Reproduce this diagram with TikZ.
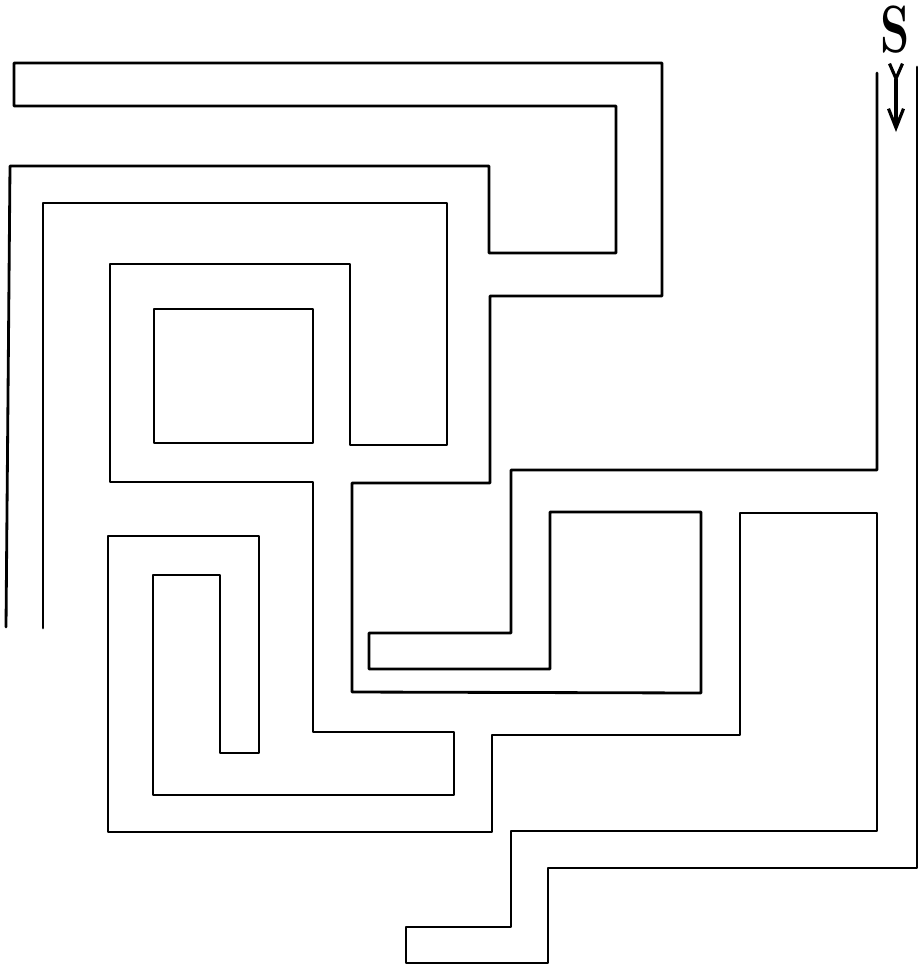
\documentclass[tikz,border=0pt]{standalone}
\usepackage{tikz}
\usetikzlibrary{arrows.meta,positioning}

\begin{document}
\begin{tikzpicture}[x=0.01cm, y=-0.01cm,
        wall/.style={line width=0.8pt, line join=round, line cap=round},
        lbl/.style={font=\fontsize{19}{21}\selectfont\bfseries, inner sep=0pt},
        line/.style={{Straight Barb[reversed, length=1.5mm, width=1.3mm]}-{Straight Barb[length=1.9mm, width=1.5mm]}, line width=0.9pt}]
        \useasboundingbox (0,0) rectangle (924,969);
        \draw[wall] (6,627) -- (10,166) -- (489,166) -- (489,253) -- (616,253) -- (616,106)
            -- (14,106) -- (14,63) -- (662,63) -- (662,296) -- (490,296) -- (490,483)
            -- (352,483) -- (352,692) -- (701,693) -- (701,512) -- (550,512) -- (550,669)
            -- (369,669) -- (369,633) -- (511,633) -- (511,470) -- (877,470) -- (877,73);
        \draw[wall] (43,628) -- (43,203) -- (447,203) -- (447,445) -- (350,445) -- (350,264)
            -- (110,264) -- (110,482) -- (313,482) -- (313,732) -- (454,732) -- (454,795)
            -- (153,795) -- (153,575) -- (220,575) -- (220,753) -- (259,753) -- (259,536)
            -- (108,536) -- (108,832) -- (492,832) -- (492,735) -- (740,735) -- (740,513)
            -- (877,513) -- (877,831) -- (511,831) -- (511,927) -- (406,927) -- (406,963)
            -- (548,963) -- (548,868) -- (917,868) -- (917,67);
        \draw[wall] (154,309) rectangle (313,443);
        \node[lbl] (start) at (895,30) {\scalebox{0.7}[1]{S}};
        \coordinate (intail) at (896,62);
        \coordinate (intip) at (896,132);
        \draw[line] (intail) -- (intip);
    \end{tikzpicture}
\end{document}
